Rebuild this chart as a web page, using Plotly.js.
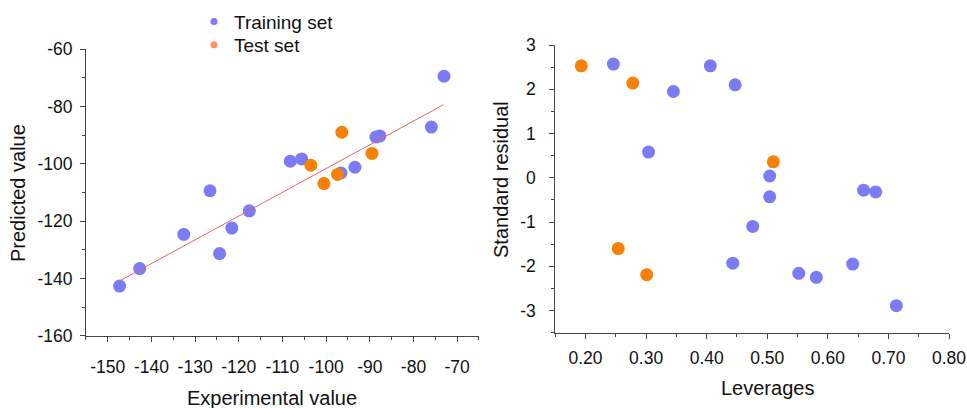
<!DOCTYPE html>
<html>
<head>
<meta charset="utf-8">
<script src="https://cdn.plot.ly/plotly-3.0.1.min.js"></script>
<style>html,body{margin:0;padding:0;background:#fff}#chart{width:967px;height:408px}</style>
</head>
<body>
<div id="chart"></div>
<script>
// Left panel: experimental vs predicted
const trainExp  = [-147.3, -142.7, -132.6, -126.6, -124.4, -121.6, -117.6, -108.2, -105.6, -96.6, -93.4, -88.6, -87.7, -75.9, -73.0];
const trainPred = [-142.6, -136.5, -124.6, -109.4, -131.3, -122.4, -116.4, -99.1, -98.3, -103.2, -101.2, -90.7, -90.3, -87.2, -69.5];
const testExp   = [-103.5, -100.5, -97.4, -96.4, -89.5];
const testPred  = [-100.5, -106.9, -103.7, -89.0, -96.4];
const fitX = [-147.3, -73.1];
const fitY = [-140.8, -79.4];

// Right panel: leverages vs standard residual
const trainLev = [0.246, 0.406, 0.447, 0.345, 0.304, 0.504, 0.504, 0.476, 0.443, 0.552, 0.581, 0.641, 0.659, 0.679, 0.713];
const trainRes = [2.57, 2.53, 2.10, 1.95, 0.58, 0.04, -0.43, -1.10, -1.93, -2.16, -2.25, -1.95, -0.28, -0.32, -2.89];
const testLev  = [0.193, 0.278, 0.510, 0.254, 0.301];
const testRes  = [2.53, 2.14, 0.36, -1.60, -2.19];

// Tick labels
const expTickVals = [-150, -140, -130, -120, -110, -100, -90, -80, -70];
const expTickText = ['-150', '-140', '-130', '-120', '-110', '-100', '-90', '-80', '-70'];
const predTickVals = [-160, -140, -120, -100, -80, -60];
const predTickText = ['-160', '-140', '-120', '-100', '-80', '-60'];
const levTickVals = [0.2, 0.3, 0.4, 0.5, 0.6, 0.7, 0.8];
const levTickText = ['0.20', '0.30', '0.40', '0.50', '0.60', '0.70', '0.80'];
const resTickVals = [-3, -2, -1, 0, 1, 2, 3];
const resTickText = ['-3', '-2', '-1', '0', '1', '2', '3'];

const seriesNames = ['Training set', 'Test set'];

const BLUE = '#7b7bf6';
const ORANGE = '#f98006';
const FONT = 'Liberation Sans, Arial, sans-serif';

const traces = [
  {x: trainExp, y: trainPred, xaxis: 'x', yaxis: 'y', mode: 'markers', type: 'scatter',
   marker: {color: BLUE, size: 13}, showlegend: false},
  {x: testExp, y: testPred, xaxis: 'x', yaxis: 'y', mode: 'markers', type: 'scatter',
   marker: {color: ORANGE, size: 13}, showlegend: false},
  {x: fitX, y: fitY, xaxis: 'x', yaxis: 'y', mode: 'lines', type: 'scatter',
   line: {color: '#e86464', width: 1}, showlegend: false},
  {x: trainLev, y: trainRes, xaxis: 'x2', yaxis: 'y2', mode: 'markers', type: 'scatter',
   marker: {color: BLUE, size: 13}, showlegend: false},
  {x: testLev, y: testRes, xaxis: 'x2', yaxis: 'y2', mode: 'markers', type: 'scatter',
   marker: {color: ORANGE, size: 13}, showlegend: false},
  // legend entries
  {x: [null], y: [null], xaxis: 'x', yaxis: 'y', mode: 'markers', type: 'scatter',
   name: seriesNames[0], marker: {color: '#7f7ff5', size: 7}, legend: 'legend'},
  {x: [null], y: [null], xaxis: 'x', yaxis: 'y', mode: 'markers', type: 'scatter',
   name: seriesNames[1], marker: {color: '#f99060', size: 7}, legend: 'legend2'}
];

const axisCommon = {
  showgrid: false, zeroline: false, showline: true, linecolor: '#444', linewidth: 1,
  ticks: 'outside', ticklen: 5, tickwidth: 1, tickcolor: '#444',
  tickfont: {family: FONT, size: 17.5, color: '#111'},
  minor: {ticks: 'outside', ticklen: 3, tickwidth: 1, tickcolor: '#444'}
};

const legendFont = {family: FONT, size: 19, color: '#111'};

const layout = {
  width: 967, height: 408,
  margin: {l: 0, r: 0, t: 0, b: 0},
  paper_bgcolor: '#fff', plot_bgcolor: '#fff',
  font: {family: FONT, color: '#111'},
  showlegend: true,
  legend: {x: 194/967, y: 1 - 21.7/408, xanchor: 'left', yanchor: 'middle', bgcolor: 'rgba(0,0,0,0)',
           font: legendFont},
  legend2: {x: 194/967, y: 1 - 45/408, xanchor: 'left', yanchor: 'middle', bgcolor: 'rgba(0,0,0,0)',
           font: legendFont},
  xaxis: Object.assign({}, axisCommon, {
    domain: [0.0889, 0.4953], anchor: 'y', range: [-155, -65], ticklabelstandoff: 10,
    tickmode: 'array', tickvals: expTickVals, ticktext: expTickText,
    minor: Object.assign({}, axisCommon.minor, {dtick: 5, tick0: -150})
  }),
  yaxis: Object.assign({}, axisCommon, {
    domain: [0.1765, 0.8799], anchor: 'x', range: [-160, -60], ticklabelstandoff: 4,
    tickmode: 'array', tickvals: predTickVals, ticktext: predTickText,
    minor: Object.assign({}, axisCommon.minor, {dtick: 10, tick0: -160})
  }),
  xaxis2: Object.assign({}, axisCommon, {
    domain: [0.5742, 0.9814], anchor: 'y2', range: [0.15, 0.80], ticklabelstandoff: 4,
    tickmode: 'array', tickvals: levTickVals, ticktext: levTickText,
    minor: Object.assign({}, axisCommon.minor, {dtick: 0.05, tick0: 0.15})
  }),
  yaxis2: Object.assign({}, axisCommon, {
    domain: [0.1846, 0.8897], anchor: 'x2', range: [-3.5, 3], ticklabelstandoff: 10,
    tickmode: 'array', tickvals: resTickVals, ticktext: resTickText,
    minor: Object.assign({}, axisCommon.minor, {dtick: 0.5, tick0: -3.5})
  }),
  annotations: [
    {text: 'Experimental value', xref: 'paper', yref: 'paper', x: 272/967, y: 1 - 398/408,
     xanchor: 'center', yanchor: 'middle', showarrow: false, font: {family: FONT, size: 20, color: '#111'}},
    {text: 'Predicted value', xref: 'paper', yref: 'paper', x: 18/967, y: 1 - 193/408, textangle: -90,
     xanchor: 'center', yanchor: 'middle', showarrow: false, font: {family: FONT, size: 20, color: '#111'}},
    {text: 'Leverages', xref: 'paper', yref: 'paper', x: 767/967, y: 1 - 388/408,
     xanchor: 'center', yanchor: 'middle', showarrow: false, font: {family: FONT, size: 20, color: '#111'}},
    {text: 'Standard residual', xref: 'paper', yref: 'paper', x: 501/967, y: 1 - 180/408, textangle: -90,
     xanchor: 'center', yanchor: 'middle', showarrow: false, font: {family: FONT, size: 20, color: '#111'}}
  ]
};

Plotly.newPlot('chart', traces, layout, {staticPlot: true, displayModeBar: false});
</script>
</body>
</html>
